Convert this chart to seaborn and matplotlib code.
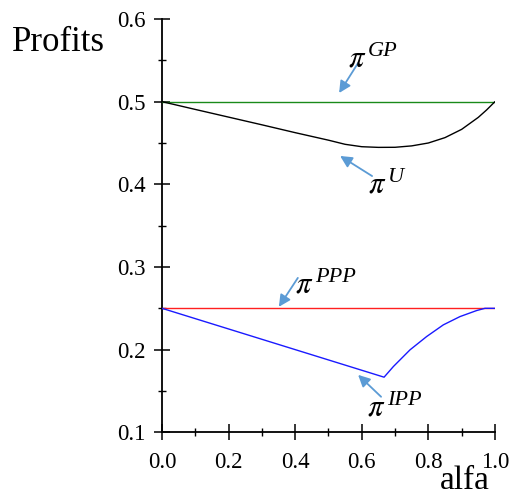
import numpy as np
import pandas as pd
import matplotlib
matplotlib.use("Agg")
import matplotlib.pyplot as plt
import seaborn as sns

# dados
alfa_u = [0, 0.1, 0.2, 0.3, 0.4, 0.5, 0.55, 0.6, 0.65, 0.7, 0.75, 0.8, 0.85, 0.9, 0.95, 0.975, 1.0]
pi_u = [0.5, 0.4906, 0.4813, 0.472, 0.4625, 0.4534, 0.4484, 0.4455, 0.4447, 0.4448,
        0.4465, 0.4500, 0.4565, 0.4665, 0.481, 0.490, 0.5]
alfa_gp = [0, 1.0]
pi_gp = [0.5, 0.5]
alfa_ppp = [0, 1.0]
pi_ppp = [0.25, 0.25]
alfa_ipp = [0, 0.667, 0.695, 0.745, 0.795, 0.845, 0.895, 0.945, 0.97, 1.0]
pi_ipp = [0.25, 0.1667, 0.1796, 0.1998, 0.2159, 0.23, 0.24, 0.2473, 0.25, 0.25]

xticks = [0.0, 0.2, 0.4, 0.6, 0.8, 1.0]
yticks = [0.1, 0.2, 0.3, 0.4, 0.5, 0.6]

rotulos = ['GP', 'U', 'PPP', 'IPP']
pos_texto = [(0.559, 0.542), (0.619, 0.3896), (0.399, 0.2687), (0.616, 0.120)]
seta_ponta = [(0.532, 0.5105), (0.535, 0.4343), (0.351, 0.2518), (0.589, 0.1695)]
seta_base = [(0.589, 0.5468), (0.631, 0.410), (0.408, 0.2868), (0.658, 0.143)]

sns.set_style("ticks")
plt.rcParams['font.family'] = ['Liberation Serif', 'DejaVu Serif']
plt.rcParams['mathtext.fontset'] = 'stix'
for k in ['text.color', 'axes.labelcolor', 'xtick.color', 'ytick.color', 'axes.edgecolor']:
    plt.rcParams[k] = 'black'

fig = plt.figure(figsize=(5.13, 4.96), dpi=100)
ax = fig.add_axes([0.3158, 0.1284, 0.649, 0.8333])

seta = '#5b9bd5'

sns.lineplot(x=alfa_gp, y=pi_gp, color='#1a8a1a', lw=1.0, ax=ax)
sns.lineplot(x=alfa_u, y=pi_u, color='black', lw=1.0, ax=ax)
sns.lineplot(x=alfa_ppp, y=pi_ppp, color='#ff2020', lw=1.0, ax=ax)
sns.lineplot(x=alfa_ipp, y=pi_ipp, color='#1a1aff', lw=1.0, ax=ax, sort=False)

ax.set_xlim(0, 1.0)
ax.set_ylim(0.1, 0.6)
ax.set_xticks(xticks)
ax.set_yticks(yticks)
ax.set_xticklabels([f'{v:.1f}' for v in xticks])
ax.set_yticklabels([f'{v:.1f}' for v in yticks])
ax.set_xticks(np.arange(0.1, 1.0, 0.2), minor=True)
ax.set_yticks(np.arange(0.15, 0.6, 0.1), minor=True)
ax.tick_params(which='major', direction='inout', length=12, width=1.1, labelsize=16.5, color='black')
ax.tick_params(axis='x', which='major', pad=8)
ax.tick_params(axis='y', which='major', pad=6)
ax.tick_params(which='minor', direction='inout', length=6, width=1.0, color='black')
for s in ['top', 'right']:
    ax.spines[s].set_visible(False)
for s in ['left', 'bottom']:
    ax.spines[s].set_linewidth(1.3)
ax.spines['left'].set_zorder(0)

# setas e rotulos (pi + expoente)
props = dict(arrowstyle='-|>,head_length=0.7,head_width=0.35', color=seta, lw=1.3, shrinkA=0, shrinkB=0)
for rot, (tx, ty), ponta, base in zip(rotulos, pos_texto, seta_ponta, seta_base):
    ax.annotate('', xy=ponta, xytext=base, arrowprops=props)
    ax.text(tx, ty, r'$\pi$', fontsize=22, va='baseline', ha='left')
    ax.annotate(rot, xy=(tx, ty), xycoords='data', xytext=(20, 11), textcoords='offset pixels',
                fontsize=16, fontstyle='italic', va='baseline', ha='left')

fig.text(12 / 513, 1 - 51 / 496, 'Profits', fontsize=25, va='baseline', ha='left')
fig.text(440 / 513, 1 - 489 / 496, 'alfa', fontsize=24, va='baseline', ha='left')

fig.savefig('out.png', dpi=100)
